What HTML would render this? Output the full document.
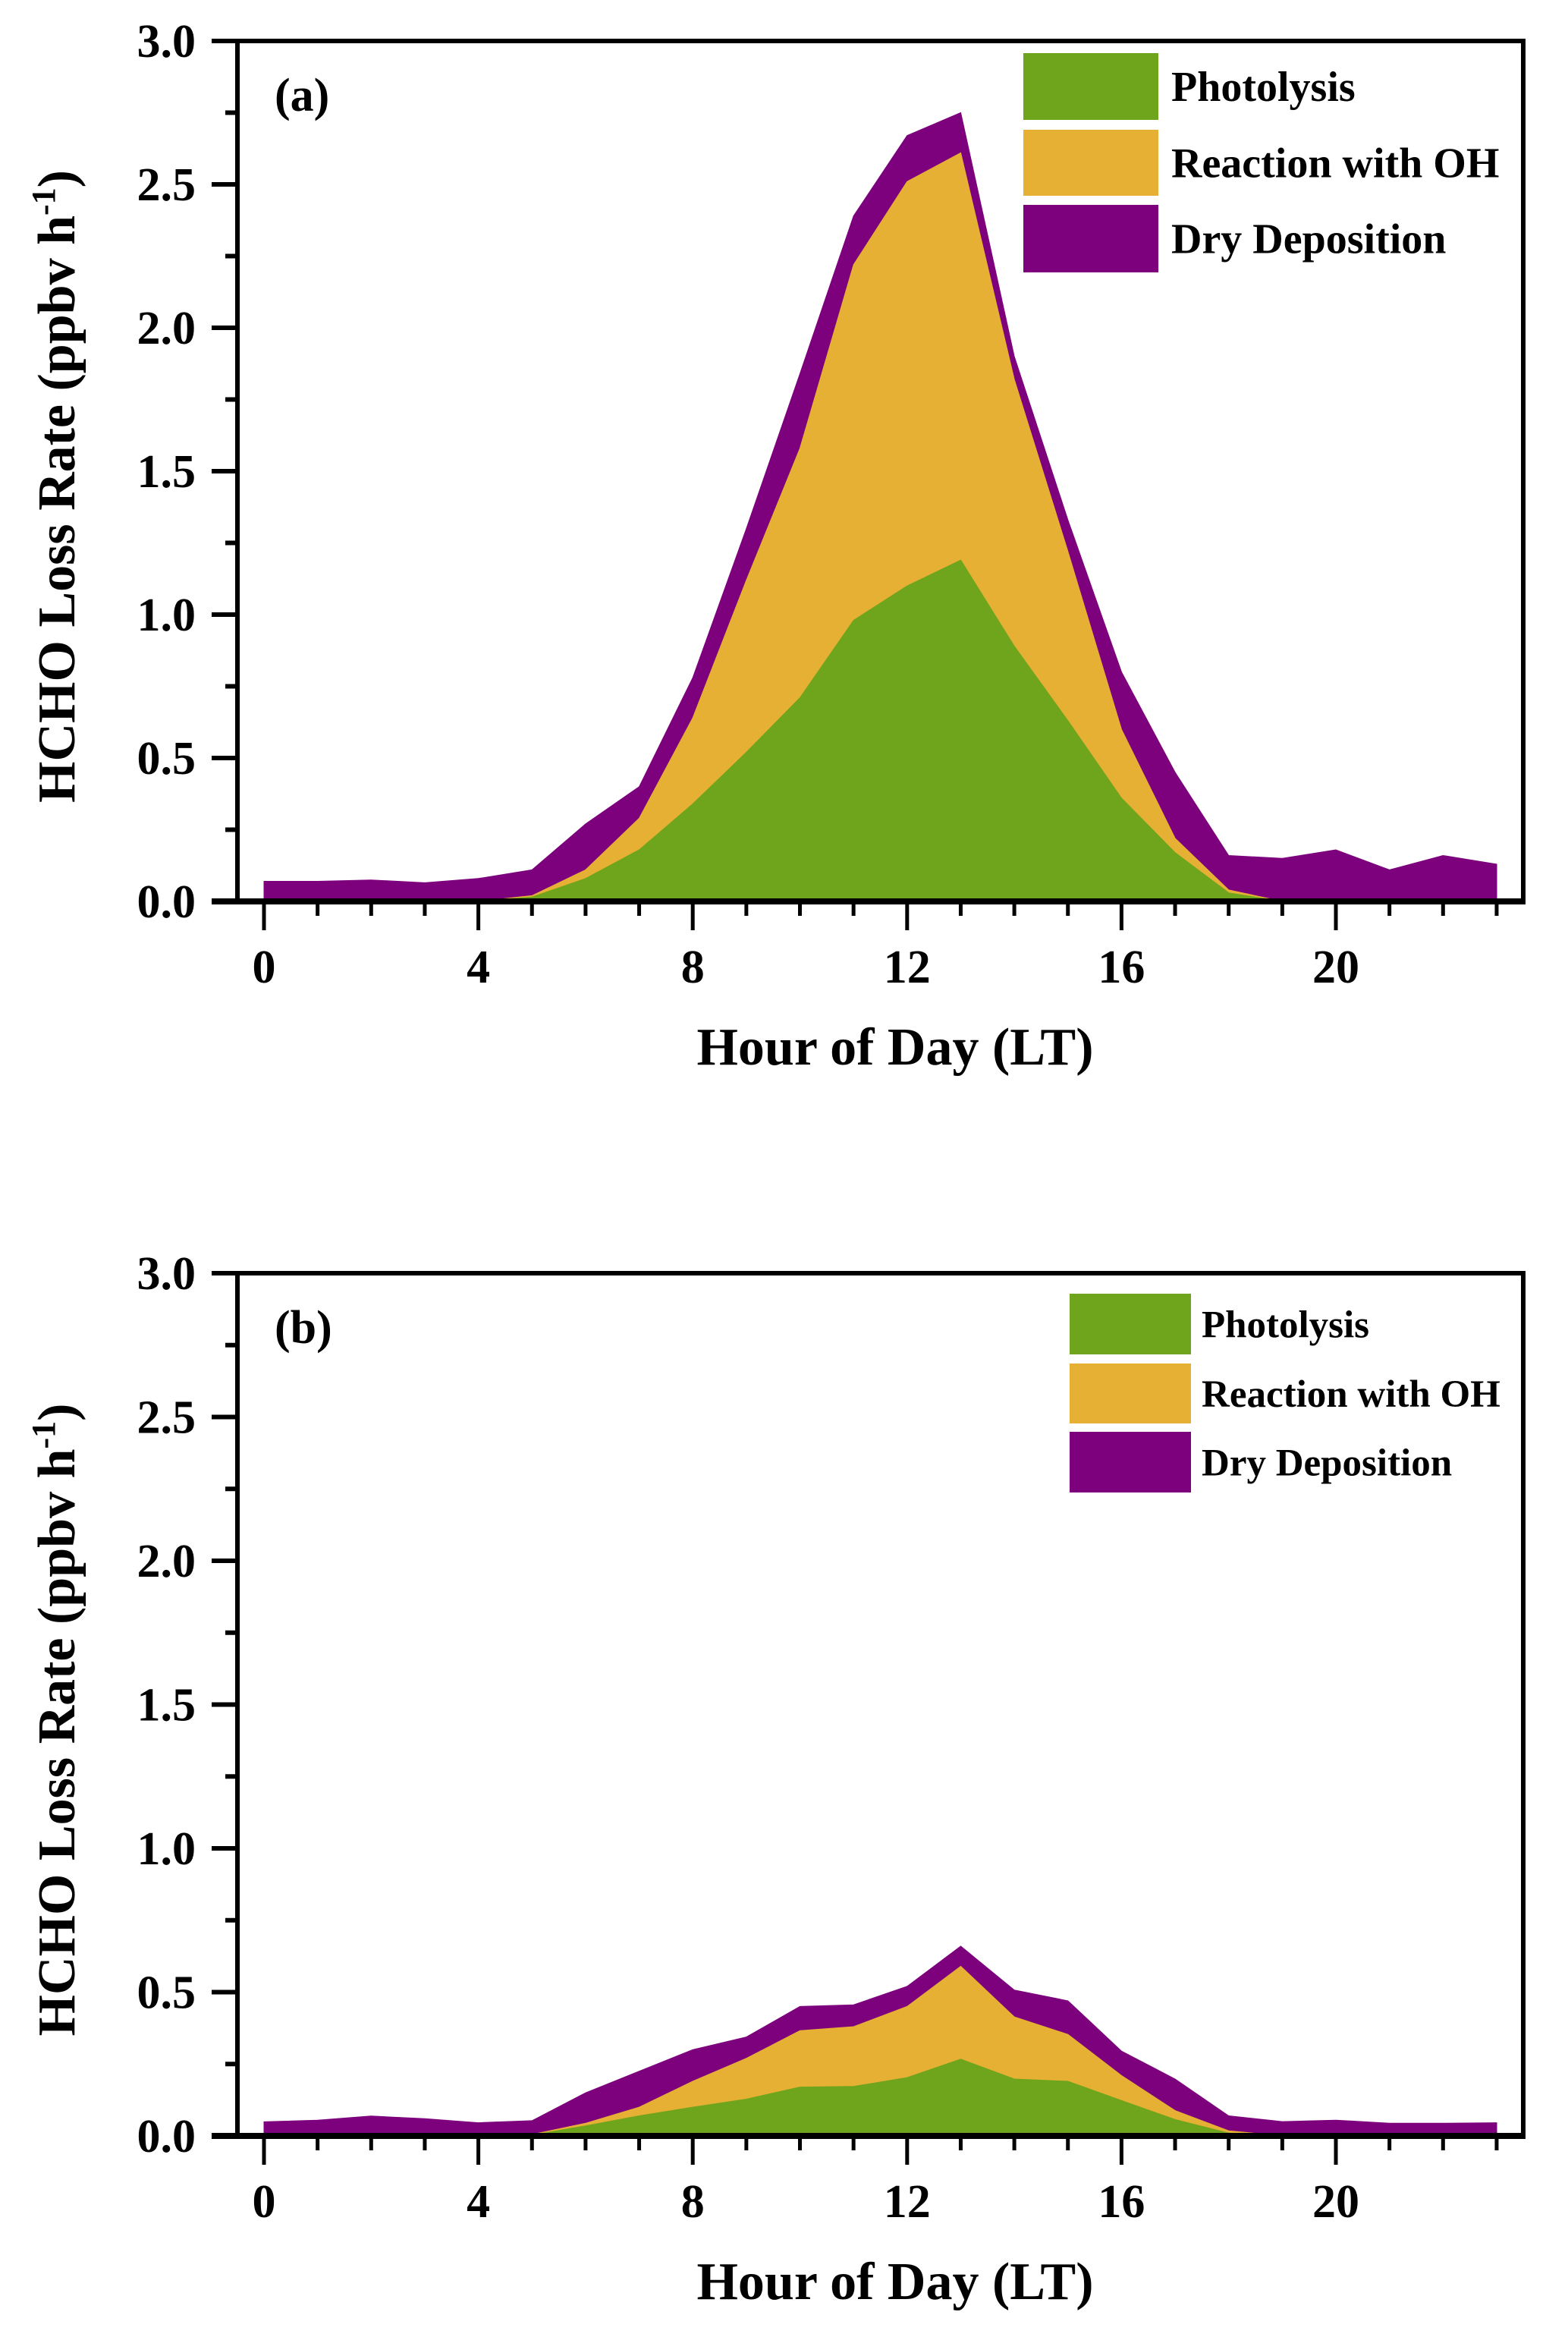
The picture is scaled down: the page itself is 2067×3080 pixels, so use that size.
<!DOCTYPE html>
<html><head><meta charset="utf-8"><style>
html,body{margin:0;padding:0;background:#fff;}
svg{display:block;font-family:"Liberation Serif",serif;font-weight:bold;}
</style></head><body>
<svg id="fig" width="2067" height="3080" viewBox="0 0 2067 3080" xmlns="http://www.w3.org/2000/svg"></svg>
<script>
const hours = [0,1,2,3,4,5,6,7,8,9,10,11,12,13,14,15,16,17,18,19,20,21,22,23];
// Panel (a) stacked boundaries (ppbv/h)
const aPhotolysisTop = [0,0,0,0,0,0.015,0.08,0.18,0.34,0.52,0.71,0.98,1.10,1.19,0.89,0.63,0.36,0.17,0.03,0,0,0,0,0];
const aOHTop = [0,0,0,0,0,0.02,0.11,0.29,0.64,1.12,1.58,2.22,2.51,2.61,1.82,1.22,0.60,0.22,0.04,0,0,0,0,0];
const aTotalTop = [0.07,0.07,0.075,0.065,0.08,0.11,0.27,0.40,0.78,1.30,1.84,2.39,2.67,2.75,1.90,1.33,0.80,0.45,0.16,0.15,0.18,0.11,0.16,0.13];
// Panel (b)
const bPhotolysisTop = [0,0,0,0,0,0.003,0.035,0.07,0.10,0.128,0.17,0.172,0.203,0.267,0.198,0.19,0.123,0.057,0.01,0,0,0,0,0];
const bOHTop = [0,0,0,0,0,0.005,0.044,0.10,0.19,0.27,0.366,0.38,0.45,0.59,0.414,0.353,0.21,0.088,0.018,0,0,0,0,0];
const bTotalTop = [0.049,0.055,0.069,0.06,0.046,0.053,0.15,0.225,0.30,0.344,0.45,0.456,0.52,0.66,0.507,0.47,0.295,0.198,0.07,0.05,0.055,0.044,0.044,0.046];
const yTickLabels = ["0.0","0.5","1.0","1.5","2.0","2.5","3.0"];
const xTickLabels = ["0","4","8","12","16","20"];
const seriesNames = ["Photolysis","Reaction with OH","Dry Deposition"];
const colors = ["#6ea51c","#e5b034","#7d007d"];

const NS = "http://www.w3.org/2000/svg";
const svg = document.getElementById('fig');
function mk(tag, attrs, parent){
  const e = document.createElementNS(NS, tag);
  for (const k in attrs) e.setAttribute(k, attrs[k]);
  (parent||svg).appendChild(e);
  return e;
}

function panel(cfg){
  const g = mk('g', {});
  
  
  const L = 313, R = 2008, T = cfg.top, B = cfg.bottom;
  const x = h => 348 + h * 70.65;
  const y = v => B - v * (B - T) / 3;
  // areas (draw from top layer down so lower layers overlap)
  const layers = [
    {name:'dry-deposition-area', top:cfg.total, bot:cfg.oh, c:colors[2]},
    {name:'oh-reaction-area', top:cfg.oh, bot:cfg.photo, c:colors[1]},
    {name:'photolysis-area', top:cfg.photo, bot:hours.map(()=>0), c:colors[0]}
  ];
  layers.forEach(l => {
    let d = '';
    hours.forEach((h,i)=>{ d += (i?'L':'M') + x(h).toFixed(1) + ',' + y(l.top[i]).toFixed(1); });
    for (let i = hours.length-1; i >= 0; i--) d += 'L' + x(hours[i]).toFixed(1) + ',' + y(l.bot[i]).toFixed(1);
    const p = mk('path', {d: d + 'Z', fill: l.c, stroke: l.c, 'stroke-width': 1}, g);
    
    
  });
  // frame
  const fr = mk('rect', {x:L, y:T, width:R-L, height:B-T, fill:'none', stroke:'#000', 'stroke-width':6}, g);
  
  
  mk('line', {x1:279, y1:B, x2:R+3, y2:B, stroke:'#000', 'stroke-width':8}, g);
  // y ticks
  for (let i = 0; i <= 12; i++) {
    const v = i * 0.25, yy = y(v), major = i % 2 === 0;
    mk('line', {x1: major ? 279 : 297, y1:yy, x2:L, y2:yy, stroke:'#000', 'stroke-width':6}, g);
  }
  yTickLabels.forEach((t,i)=>{
    const e = mk('text', {x:258, y:y(i*0.5)+21, 'text-anchor':'end', 'font-size':62}, g);
    e.textContent = t;
    
    
  });
  // x ticks
  hours.forEach(h=>{
    const major = h % 4 === 0;
    mk('line', {x1:x(h), y1:B, x2:x(h), y2:B + (major ? 38 : 19), stroke:'#000', 'stroke-width':5}, g);
  });
  xTickLabels.forEach((t,i)=>{
    const e = mk('text', {x:x(i*4), y:B+107, 'text-anchor':'middle', 'font-size':62}, g);
    e.textContent = t;
    
    
  });
  const xt = mk('text', {x:1180, y:B+215, 'text-anchor':'middle', 'font-size':70}, g);
  xt.textContent = 'Hour of Day (LT)';
  
  
  const cy = (T + B) / 2 + 20;
  const yt = mk('text', {x:0, y:0, 'text-anchor':'middle', 'font-size':70, transform:'translate(98,'+cy+') rotate(-90)'}, g);
  yt.innerHTML = 'HCHO Loss Rate (ppbv h<tspan dy="-26" font-size="44">-1</tspan><tspan dy="26">)</tspan>';
  
  
  const pl = mk('text', {x:362, y:T+92, 'font-size':62}, g);
  pl.textContent = '(' + cfg.id + ')';
  
  
  // legend
  const lg = mk('g', {}, g);
  
  
  cfg.legRows.forEach((r,i)=>{
    const sw = mk('rect', {x:cfg.legX, y:r[0], width:cfg.legW, height:r[1]-r[0], fill:colors[i]}, lg);
    
    
    const tx = mk('text', {x:cfg.legTx, y:(r[0]+r[1])/2 + cfg.legFs*0.34, 'font-size':cfg.legFs}, lg);
    tx.textContent = seriesNames[i];
    
    
  });
}

panel({id:'a', top:54, bottom:1188, photo:aPhotolysisTop, oh:aOHTop, total:aTotalTop,
  legX:1349, legW:178, legTx:1544, legFs:56, legRows:[[70,158],[171,258],[270,359]]});
panel({id:'b', top:1678, bottom:2815, photo:bPhotolysisTop, oh:bOHTop, total:bTotalTop,
  legX:1410, legW:160, legTx:1584, legFs:51, legRows:[[1705,1785],[1797,1876],[1887,1967]]});
</script>
</body></html>
